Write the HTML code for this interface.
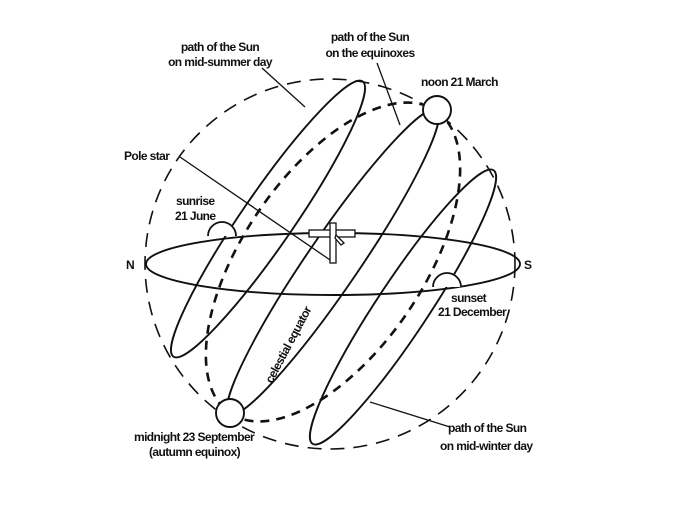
<!DOCTYPE html>
<html><head><meta charset="utf-8"><style>
html,body{margin:0;padding:0;background:#fff;}
svg{display:block;}
text{font-family:"Liberation Sans Narrow","Liberation Sans",sans-serif;font-size:12px;font-weight:bold;fill:#111;letter-spacing:-0.6px;}
</style></head><body>
<svg width="674" height="505" viewBox="0 0 674 505" fill="none" stroke="#111">
<circle cx="330" cy="264" r="185" stroke-width="1.6" stroke-dasharray="14 9"/>
<ellipse cx="333" cy="262" rx="183" ry="90" transform="rotate(-55.7 333 262)" stroke-width="2.6" stroke-dasharray="9 7"/>
<ellipse cx="333" cy="264" rx="187" ry="31" stroke-width="1.9"/>
<ellipse cx="268" cy="219" rx="167" ry="26" transform="rotate(-55.5 268 219)" stroke-width="1.9"/>
<ellipse cx="333" cy="262" rx="184" ry="26" transform="rotate(-55.7 333 262)" stroke-width="1.9"/>
<ellipse cx="403" cy="307" rx="164" ry="26" transform="rotate(-56.5 403 307)" stroke-width="1.9"/>
<circle cx="437" cy="110" r="14" fill="#fff" stroke-width="1.9"/>
<circle cx="230" cy="413" r="14" fill="#fff" stroke-width="1.9"/>
<path d="M208 236 A14 14 0 0 1 236 236" fill="#fff" stroke-width="1.8"/>
<path d="M433 287 A14 14 0 0 1 461 287" fill="#fff" stroke-width="1.8"/>
<g stroke-width="1.3">
<line x1="180" y1="157" x2="333" y2="262"/>
<line x1="262" y1="68" x2="305" y2="107"/>
<line x1="377" y1="63" x2="400" y2="125"/>
<line x1="370" y1="402" x2="450" y2="427"/>
</g>
<g stroke-width="1.3" fill="#fff">
<rect x="309" y="230" width="46" height="7"/>
<rect x="330" y="223" width="6" height="40"/>
<path d="M336 235 l8 8 l-3 2 l-6 -7z"/>
</g>
<g stroke="none">
<text x="220" y="51" text-anchor="middle">path of the Sun</text>
<text x="220" y="66" text-anchor="middle">on mid-summer day</text>
<text x="370" y="41" text-anchor="middle">path of the Sun</text>
<text x="370" y="57" text-anchor="middle">on the equinoxes</text>
<text x="421" y="86">noon 21 March</text>
<text x="124" y="160">Pole star</text>
<text x="176" y="205">sunrise</text>
<text x="175" y="220">21 June</text>
<text x="126" y="269">N</text>
<text x="524" y="269">S</text>
<text x="451" y="302">sunset</text>
<text x="438" y="316">21 December</text>
<text x="0" y="0" transform="translate(272 384) rotate(-62)">celestial equator</text>
<text x="134" y="441">midnight 23 September</text>
<text x="149" y="456">(autumn equinox)</text>
<text x="448" y="432">path of the Sun</text>
<text x="440" y="450">on mid-winter day</text>
</g>
</svg>
</body></html>
